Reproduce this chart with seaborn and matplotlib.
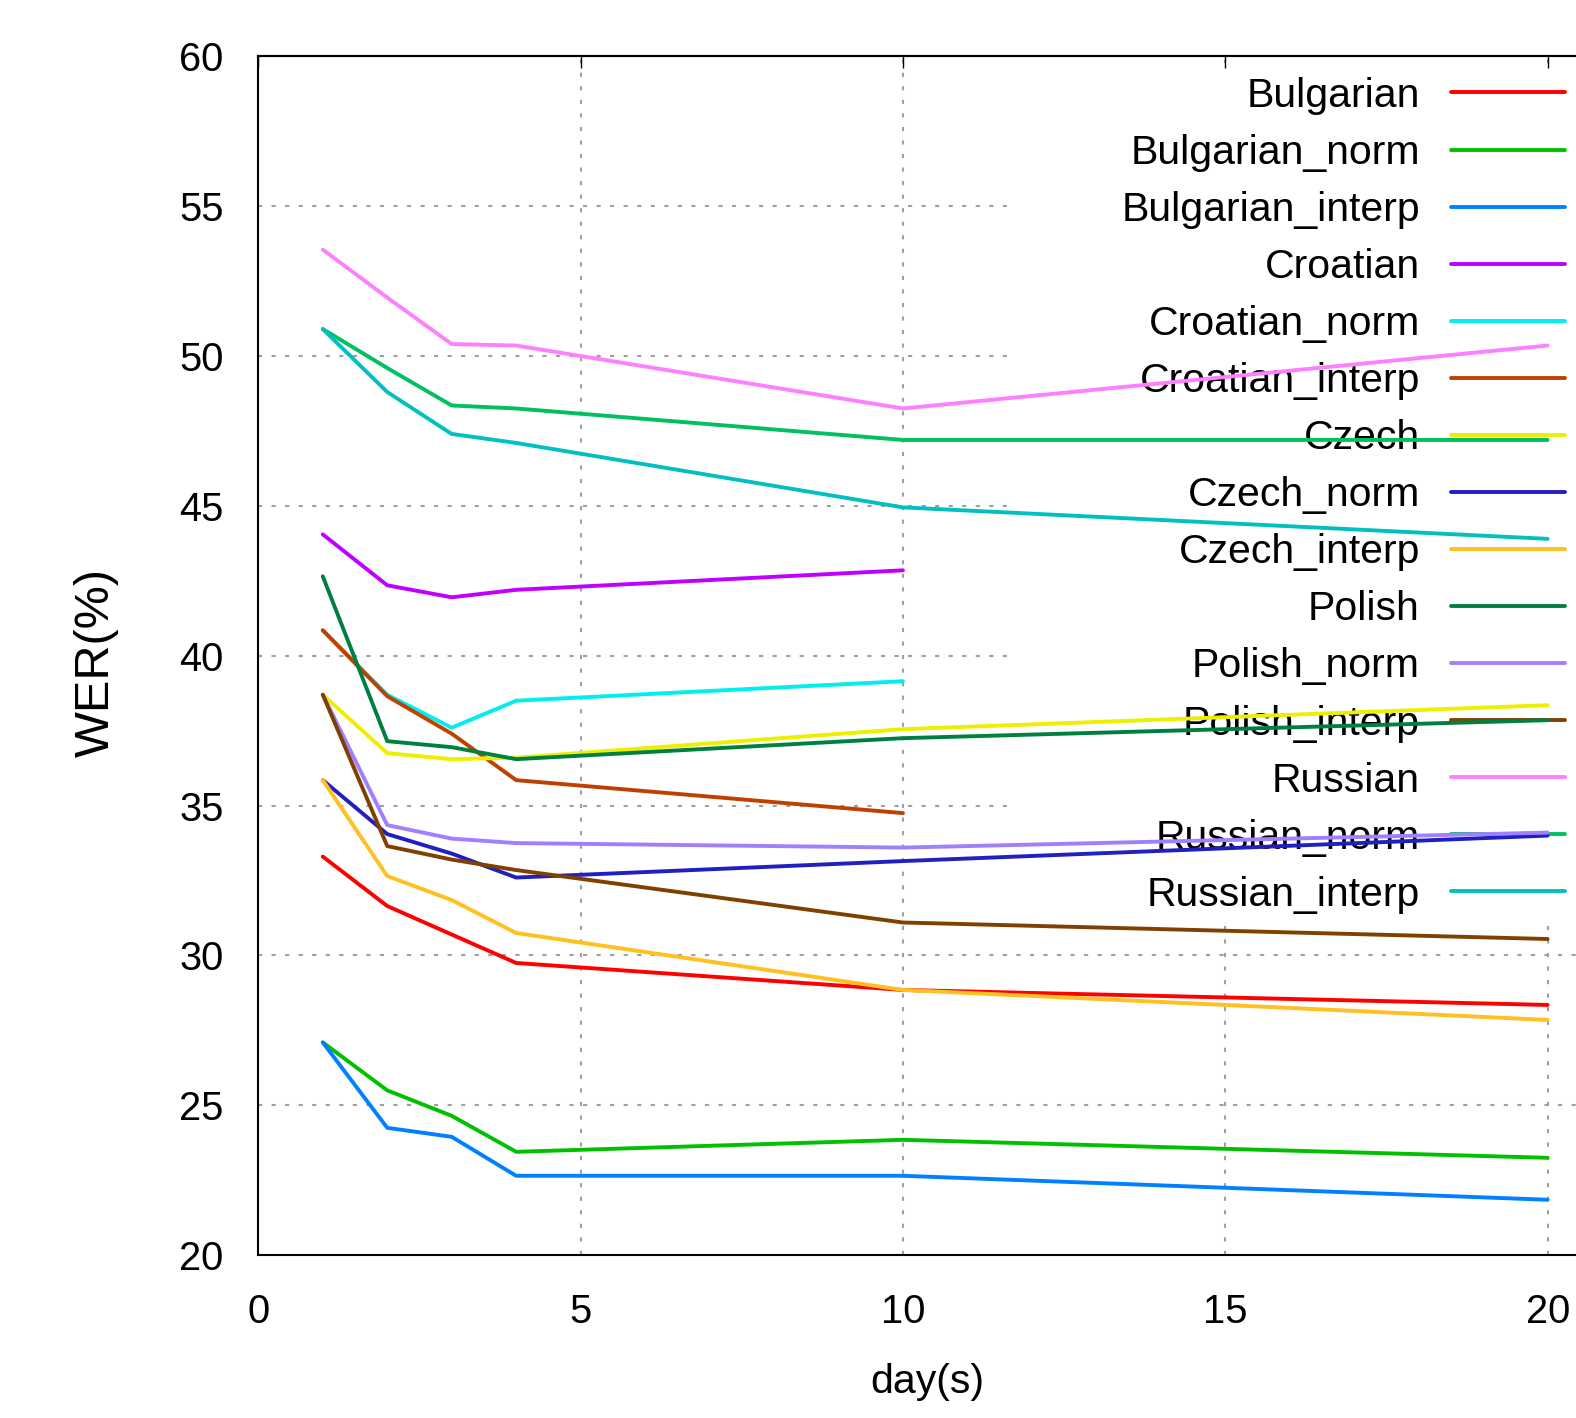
import matplotlib
matplotlib.use("Agg")
import matplotlib.pyplot as plt
import seaborn as sns
from matplotlib import font_manager

# days at which WER was measured
days_full = [1, 2, 3, 4, 10, 20]
days_half = [1, 2, 3, 4, 10]

# WER(%) values
bulgarian        = [33.3, 31.65, 30.7, 29.75, 28.85, 28.35]
bulgarian_norm   = [27.1, 25.5, 24.65, 23.45, 23.85, 23.25]
bulgarian_interp = [27.1, 24.25, 23.95, 22.65, 22.65, 21.85]
croatian         = [44.05, 42.35, 41.95, 42.2, 42.85]
croatian_norm    = [40.85, 38.7, 37.6, 38.5, 39.15]
croatian_interp  = [40.85, 38.65, 37.4, 35.85, 34.75]
czech            = [38.7, 36.75, 36.55, 36.6, 37.55, 38.35]
czech_norm       = [35.85, 34.05, 33.4, 32.6, 33.15, 34.0]
czech_interp     = [35.85, 32.65, 31.85, 30.75, 28.85, 27.85]
polish           = [42.65, 37.15, 36.95, 36.55, 37.25, 37.85]
polish_norm      = [38.7, 34.35, 33.9, 33.75, 33.6, 34.1]
polish_interp    = [38.7, 33.65, 33.2, 32.85, 31.1, 30.55]
russian          = [53.55, 51.95, 50.4, 50.35, 48.25, 50.35]
russian_norm     = [50.9, 49.6, 48.35, 48.25, 47.2, 47.2]
russian_interp   = [50.9, 48.8, 47.4, 47.1, 44.95, 43.9]

labels = ["Bulgarian", "Bulgarian_norm", "Bulgarian_interp",
          "Croatian", "Croatian_norm", "Croatian_interp",
          "Czech", "Czech_norm", "Czech_interp",
          "Polish", "Polish_norm", "Polish_interp",
          "Russian", "Russian_norm", "Russian_interp"]
series = [bulgarian, bulgarian_norm, bulgarian_interp,
          croatian, croatian_norm, croatian_interp,
          czech, czech_norm, czech_interp,
          polish, polish_norm, polish_interp,
          russian, russian_norm, russian_interp]
colors = ["#ff0000", "#00c000", "#0080ff", "#c000ff", "#00eeee", "#c04000",
          "#eeee00", "#2020c0", "#ffc020", "#008040", "#a080ff", "#804000",
          "#ff80ff", "#00c060", "#00c0c0"]

sns.set_style("white")
names = {f.name for f in font_manager.fontManager.ttflist}
narrow = "Liberation Sans Narrow" in names
fam = "Liberation Sans Narrow" if narrow else "Liberation Sans"
k = 1.0 if narrow else 0.82
plt.rcParams["font.family"] = [fam, "DejaVu Sans"]
plt.rcParams["axes.linewidth"] = 1.5
plt.rcParams["axes.edgecolor"] = "black"
plt.rcParams["text.color"] = "black"
plt.rcParams["axes.labelcolor"] = "black"
plt.rcParams["xtick.color"] = "black"
plt.rcParams["ytick.color"] = "black"

fig = plt.figure(figsize=(15.76, 14.18), dpi=100)
ax = fig.add_axes([0.1639, 0.1148, 0.8361, 0.8455])

for name, vals, c in zip(labels, series, colors):
    days = days_full if len(vals) == len(days_full) else days_half
    sns.lineplot(x=days, y=vals, color=c, linewidth=2.8, label=name, ax=ax)

ax.set_xlim(0, 20.44)
ax.set_ylim(20, 60)
ax.set_xticks(range(0, 21, 5))
ax.set_yticks(range(20, 61, 5))
ax.set_axisbelow(True)
ax.grid(True, color="#a0a0a0", linestyle=(0, (2, 4.5)), linewidth=1.5)
ax.spines["right"].set_visible(False)
ax.tick_params(direction="in", length=8.6, width=1, top=False, right=False,
               labelsize=35 * k)
ax.tick_params(axis="x", pad=27)
ax.tick_params(axis="y", pad=25)

top = ax.secondary_xaxis("top")
top.set_zorder(3)
top.set_xticks(range(0, 21, 5))
top.tick_params(direction="in", length=8.6, width=1, labeltop=False)

ax.set_xlabel("day(s)", fontsize=36 * k)
ax.xaxis.set_label_coords(0.5073, -0.0899)
ax.set_ylabel("WER(%)", fontsize=35, family=["Liberation Sans", "DejaVu Sans"])
ax.yaxis.set_label_coords(-0.106, 0.494)

fs = 36 * k
leg = ax.legend(loc="upper right", bbox_to_anchor=(1.0006, 0.9545),
                bbox_transform=fig.transFigure, markerfirst=False,
                frameon=True, facecolor="white", edgecolor="none",
                framealpha=1, fancybox=False, borderpad=0.3,
                borderaxespad=0, handlelength=82 / fs, handletextpad=22.3 / fs,
                labelspacing=0.465, prop={"family": [fam, "DejaVu Sans"], "size": fs})
leg.set_zorder(1)
for col in leg._legend_handle_box.get_children():
    col.align = "right"
    col.width = 544

fig.savefig("out.png", dpi=100)
